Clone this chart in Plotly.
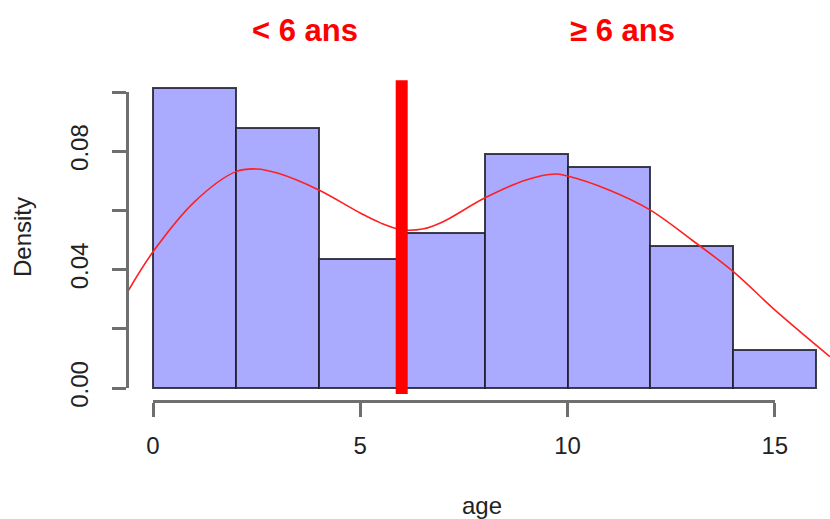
import plotly.graph_objects as go

# Histogram of age (density scale), bins of width 2
bin_centers = [1, 3, 5, 7, 9, 11, 13, 15]
bin_width = 2
bin_density = [0.1012, 0.0879, 0.0437, 0.0525, 0.0789, 0.0746, 0.0480, 0.0128]

# Kernel density estimate of age
kde_age = [-0.63, 0, 1, 2, 2.5, 3, 4, 5, 5.5, 6, 6.5, 7, 8, 9, 9.7, 10, 11, 12, 13, 14, 15, 16.33]
kde_density = [0.0321, 0.0460, 0.0629, 0.0731, 0.0740, 0.0726, 0.0669, 0.0591, 0.0557,
               0.0535, 0.0537, 0.0562, 0.0642, 0.0703, 0.0723, 0.0716, 0.0669, 0.0601,
               0.0500, 0.0393, 0.0264, 0.0106]

# Age cut-off separating the two groups
cutoff_age = 6
cutoff_span = [-0.002, 0.104]

# Axis ticks
x_ticks = [0, 5, 10, 15]
y_ticks = [0, 0.02, 0.04, 0.06, 0.08, 0.10]
y_ticktext = ["0.00", "", "0.04", "", "0.08", ""]

group_labels = ["< 6 ans", "≥ 6 ans"]

W, H = 830, 519
FONT = "Liberation Sans, Arial, sans-serif"
AXIS_GREY = "#6f6f6f"

# plot area in pixels
L, R_EDGE, T, B = 127, 830, 40, 402
x_px0, x_scale = 153.0, 41.45      # pixel of age 0, px per year
y_px0, y_scale = 388.0, 2960.0     # pixel of density 0, px per unit

x_range = [(L - x_px0) / x_scale, (R_EDGE - x_px0) / x_scale]
y_range = [(y_px0 - B) / y_scale, (y_px0 - T) / y_scale]
pw, ph = R_EDGE - L, B - T


def px_x(p):
    return (p - L) / pw


def px_y(p):
    return (B - p) / ph


fig = go.Figure()

fig.add_trace(go.Bar(
    x=bin_centers, y=bin_density, width=bin_width,
    marker=dict(color="#aaaaff", line=dict(color="rgba(30,30,45,0.85)", width=2)),
    showlegend=False, hoverinfo="skip",
))

fig.add_trace(go.Scatter(
    x=kde_age, y=kde_density, mode="lines",
    line=dict(color="#ff2020", width=1.6, shape="spline", smoothing=1.0),
    showlegend=False, hoverinfo="skip",
))

fig.add_trace(go.Scatter(
    x=[cutoff_age, cutoff_age], y=cutoff_span, mode="lines",
    line=dict(color="#ff0000", width=12),
    showlegend=False, hoverinfo="skip",
))

# empty trace carrying the R-style detached axes
fig.add_trace(go.Scatter(x=[], y=[], xaxis="x2", yaxis="y2",
                         showlegend=False, hoverinfo="skip"))

axis_common = dict(showgrid=False, zeroline=False, showline=True,
                   linecolor=AXIS_GREY, linewidth=2.5, ticks="outside",
                   ticklen=14, tickwidth=2.5, tickcolor=AXIS_GREY,
                   tickfont=dict(family=FONT, size=24, color="#222222"))

fig.update_layout(
    width=W, height=H, autosize=False,
    margin=dict(l=L, r=W - R_EDGE, t=T, b=H - B, pad=0, autoexpand=False),
    paper_bgcolor="white", plot_bgcolor="rgba(0,0,0,0)",
    bargap=0,
    xaxis=dict(range=x_range, visible=False, domain=[0, 1]),
    yaxis=dict(range=y_range, visible=False, domain=[0, 1]),
    xaxis2=dict(range=[0, 15], domain=[px_x(x_px0), px_x(x_px0 + 15 * x_scale)],
                anchor="free", position=px_y(401), tickvals=x_ticks,
                ticktext=[str(v) for v in x_ticks], ticklabelstandoff=8,
                **axis_common),
    yaxis2=dict(range=[0, 0.1], domain=[px_y(y_px0), px_y(y_px0 - 0.1 * y_scale)],
                anchor="free", position=0, side="left", tickvals=y_ticks,
                ticktext=y_ticktext, tickangle=-90, ticklabelstandoff=15,
                **axis_common),
    annotations=[
        dict(text=group_labels[0], x=px_x(305), y=px_y(31), xref="paper", yref="paper",
             showarrow=False, xanchor="center", yanchor="middle",
             font=dict(family=FONT, size=31, color="#ff0000", weight="bold")),
        dict(text=group_labels[1], x=px_x(622), y=px_y(31), xref="paper", yref="paper",
             showarrow=False, xanchor="center", yanchor="middle",
             font=dict(family=FONT, size=31, color="#ff0000", weight="bold")),
        dict(text="Density", x=px_x(22), y=px_y(237), xref="paper", yref="paper",
             showarrow=False, xanchor="center", yanchor="middle", textangle=-90,
             font=dict(family=FONT, size=24, color="#222222")),
        dict(text="age", x=px_x(482), y=px_y(505), xref="paper", yref="paper",
             showarrow=False, xanchor="center", yanchor="middle",
             font=dict(family=FONT, size=24, color="#222222")),
    ],
)

fig.write_html("out.html", config={"responsive": False})
